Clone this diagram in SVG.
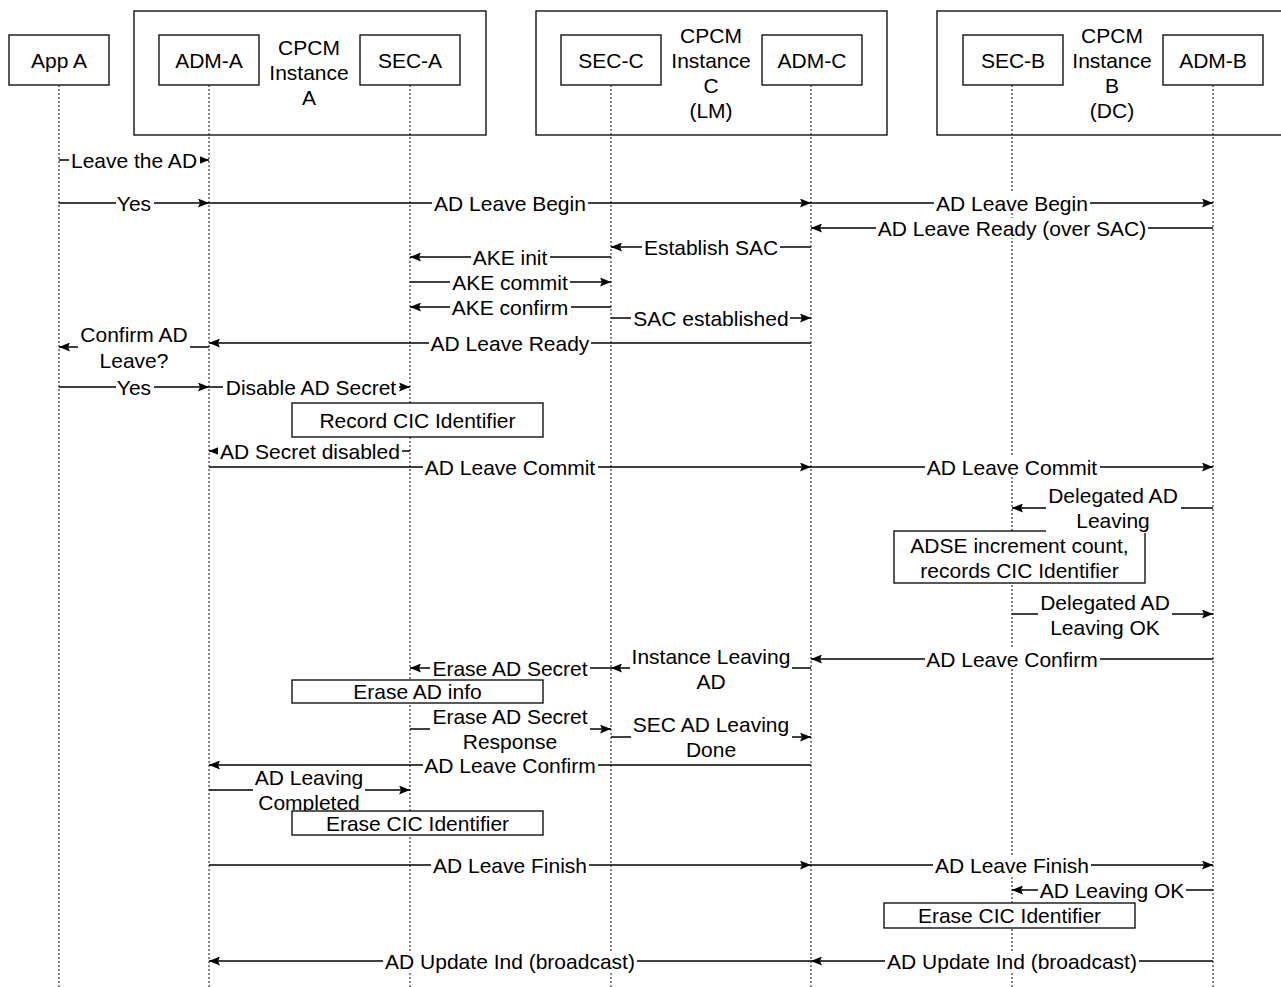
<svg xmlns="http://www.w3.org/2000/svg" width="1281" height="987" viewBox="0 0 1281 987">
<defs>
<marker id="ah" markerUnits="userSpaceOnUse" markerWidth="11" markerHeight="9" refX="11" refY="4.5" orient="auto">
<path d="M0,0 L11,4.5 L0,9 L2,4.5 z" fill="#000"/>
</marker>
<style>
text{font-family:"Liberation Sans",Arial,sans-serif;font-size:21px;fill:#000;text-anchor:middle;dominant-baseline:central}
.grp{fill:none;stroke:#000;stroke-width:1.3}
.box{fill:#fff;stroke:#000;stroke-width:1.3}
.life{stroke:#111;stroke-width:1;stroke-dasharray:2 2;fill:none}
.msg{stroke:#000;stroke-width:1.3;fill:none;marker-end:url(#ah)}
.bg{fill:#fff;stroke:none}
</style>
</defs>
<rect width="1281" height="987" fill="#fff"/>

<g id="instance-A">
<rect class="grp" x="134" y="11" width="352" height="124"/>
<text x="309" y="47">CPCM</text><text x="309" y="72">Instance</text><text x="309" y="97">A</text>
</g>
<g id="instance-C">
<rect class="grp" x="536" y="11" width="351" height="124"/>
<text x="711" y="35">CPCM</text><text x="711" y="60">Instance</text><text x="711" y="85">C</text><text x="711" y="110">(LM)</text>
</g>
<g id="instance-B">
<rect class="grp" x="937" y="11" width="360" height="124"/>
<text x="1112" y="35">CPCM</text><text x="1112" y="60">Instance</text><text x="1112" y="85">B</text><text x="1112" y="110">(DC)</text>
</g>

<g id="lifelines">
<line class="life" x1="59" y1="85" x2="59" y2="987"/>
<line class="life" x1="209" y1="85" x2="209" y2="987"/>
<line class="life" x1="410" y1="85" x2="410" y2="987"/>
<line class="life" x1="611" y1="85" x2="611" y2="987"/>
<line class="life" x1="811" y1="85" x2="811" y2="987"/>
<line class="life" x1="1012" y1="85" x2="1012" y2="987"/>
<line class="life" x1="1213" y1="85" x2="1213" y2="987"/>
</g>

<g id="app-a"><rect class="box" x="9" y="35" width="100" height="50"/><text x="59" y="60">App A</text></g>
<g id="adm-a"><rect class="box" x="159" y="35" width="100" height="50"/><text x="209" y="60">ADM-A</text></g>
<g id="sec-a"><rect class="box" x="360" y="35" width="100" height="50"/><text x="410" y="60">SEC-A</text></g>
<g id="sec-c"><rect class="box" x="561" y="35" width="100" height="50"/><text x="611" y="60">SEC-C</text></g>
<g id="adm-c"><rect class="box" x="762" y="35" width="100" height="50"/><text x="812" y="60">ADM-C</text></g>
<g id="sec-b"><rect class="box" x="963" y="35" width="100" height="50"/><text x="1013" y="60">SEC-B</text></g>
<g id="adm-b"><rect class="box" x="1163" y="35" width="100" height="50"/><text x="1213" y="60">ADM-B</text></g>

<g id="note-record-cic"><rect class="box" x="292" y="403" width="251" height="34"/><text x="417.5" y="420">Record CIC Identifier</text></g>
<g id="note-adse"><rect class="box" x="894" y="531" width="251" height="52"/><text x="1019.5" y="545">ADSE increment count,</text><text x="1019.5" y="570">records CIC Identifier</text></g>
<g id="note-erase-ad-info"><rect class="box" x="292" y="680" width="251" height="23"/><text x="417.5" y="691">Erase AD info</text></g>
<g id="note-erase-cic-b"><rect class="box" x="884" y="903" width="251" height="25"/><text x="1009.5" y="915">Erase CIC Identifier</text></g>

<g id="connectors">
<line class="msg" x1="59" y1="160" x2="209" y2="160"/>
<line class="msg" x1="59" y1="203" x2="209" y2="203"/>
<line class="msg" x1="209" y1="203" x2="811" y2="203"/>
<line class="msg" x1="811" y1="203" x2="1213" y2="203"/>
<line class="msg" x1="1213" y1="228" x2="811" y2="228"/>
<line class="msg" x1="811" y1="247" x2="611" y2="247"/>
<line class="msg" x1="611" y1="257" x2="410" y2="257"/>
<line class="msg" x1="410" y1="282" x2="611" y2="282"/>
<line class="msg" x1="611" y1="307" x2="410" y2="307"/>
<line class="msg" x1="611" y1="318" x2="811" y2="318"/>
<line class="msg" x1="811" y1="343" x2="209" y2="343"/>
<line class="msg" x1="209" y1="347" x2="59" y2="347"/>
<line class="msg" x1="59" y1="387" x2="209" y2="387"/>
<line class="msg" x1="209" y1="387" x2="410" y2="387"/>
<line class="msg" x1="410" y1="451" x2="209" y2="451"/>
<line class="msg" x1="209" y1="467" x2="811" y2="467"/>
<line class="msg" x1="811" y1="467" x2="1213" y2="467"/>
<line class="msg" x1="1213" y1="508" x2="1012" y2="508"/>
<line class="msg" x1="1012" y1="614" x2="1213" y2="614"/>
<line class="msg" x1="1213" y1="659" x2="811" y2="659"/>
<line class="msg" x1="811" y1="668" x2="611" y2="668"/>
<line class="msg" x1="611" y1="668" x2="410" y2="668"/>
<line class="msg" x1="410" y1="729" x2="611" y2="729"/>
<line class="msg" x1="611" y1="737" x2="811" y2="737"/>
<line class="msg" x1="811" y1="765" x2="209" y2="765"/>
<line class="msg" x1="209" y1="790" x2="410" y2="790"/>
<line class="msg" x1="209" y1="865" x2="811" y2="865"/>
<line class="msg" x1="811" y1="865" x2="1213" y2="865"/>
<line class="msg" x1="1213" y1="890" x2="1012" y2="890"/>
<line class="msg" x1="811" y1="961" x2="209" y2="961"/>
<line class="msg" x1="1213" y1="961" x2="811" y2="961"/>

<rect class="bg" x="69" y="150" width="131" height="20"/>
<rect class="bg" x="116" y="193" width="38" height="20"/>
<rect class="bg" x="432" y="193" width="156" height="20"/>
<rect class="bg" x="934" y="193" width="156" height="20"/>
<rect class="bg" x="876" y="218" width="272" height="20"/>
<rect class="bg" x="642" y="237" width="138" height="20"/>
<rect class="bg" x="471" y="247" width="79" height="20"/>
<rect class="bg" x="450" y="272" width="120" height="20"/>
<rect class="bg" x="450" y="297" width="121" height="20"/>
<rect class="bg" x="631" y="308" width="159" height="20"/>
<rect class="bg" x="429" y="333" width="162" height="20"/>
<rect class="bg" x="78" y="323" width="112" height="49"/>
<rect class="bg" x="116" y="377" width="38" height="20"/>
<rect class="bg" x="223" y="377" width="176" height="20"/>
<rect class="bg" x="218" y="441" width="184" height="20"/>
<rect class="bg" x="423" y="457" width="175" height="20"/>
<rect class="bg" x="925" y="457" width="175" height="20"/>
<rect class="bg" x="1046" y="484" width="135" height="49"/>
<rect class="bg" x="1038" y="591" width="134" height="47"/>
<rect class="bg" x="925" y="649" width="175" height="20"/>
<rect class="bg" x="630" y="645" width="162" height="47"/>
<rect class="bg" x="430" y="658" width="160" height="20"/>
<rect class="bg" x="430" y="705" width="160" height="47"/>
<rect class="bg" x="631" y="713" width="161" height="47"/>
<rect class="bg" x="423" y="755" width="175" height="20"/>
<rect class="bg" x="253" y="767" width="112" height="46"/>
<rect class="bg" x="431" y="855" width="158" height="20"/>
<rect class="bg" x="933" y="855" width="158" height="20"/>
<rect class="bg" x="1038" y="880" width="148" height="20"/>
<rect class="bg" x="383" y="951" width="254" height="20"/>
<rect class="bg" x="885" y="951" width="254" height="20"/>

<text x="134" y="160">Leave the AD</text>
<text x="134" y="203">Yes</text>
<text x="510" y="203">AD Leave Begin</text>
<text x="1012" y="203">AD Leave Begin</text>
<text x="1012" y="228">AD Leave Ready (over SAC)</text>
<text x="711" y="247">Establish SAC</text>
<text x="510" y="257">AKE init</text>
<text x="510" y="282">AKE commit</text>
<text x="510" y="307">AKE confirm</text>
<text x="711" y="318">SAC established</text>
<text x="510" y="343">AD Leave Ready</text>
<text x="134" y="334">Confirm AD</text><text x="134" y="360">Leave?</text>
<text x="134" y="387">Yes</text>
<text x="311" y="387">Disable AD Secret</text>
<text x="310" y="451">AD Secret disabled</text>
<text x="510" y="467">AD Leave Commit</text>
<text x="1012" y="467">AD Leave Commit</text>
<text x="1113" y="495">Delegated AD</text><text x="1113" y="520">Leaving</text>
<text x="1105" y="602">Delegated AD</text><text x="1105" y="627">Leaving OK</text>
<text x="1012" y="659">AD Leave Confirm</text>
<text x="711" y="656">Instance Leaving</text><text x="711" y="681">AD</text>
<text x="510" y="668">Erase AD Secret</text>
<text x="510" y="716">Erase AD Secret</text><text x="510" y="741">Response</text>
<text x="711" y="724">SEC AD Leaving</text><text x="711" y="749">Done</text>
<text x="510" y="765">AD Leave Confirm</text>
<text x="309" y="777">AD Leaving</text><text x="309" y="802">Completed</text>
<text x="510" y="865">AD Leave Finish</text>
<text x="1012" y="865">AD Leave Finish</text>
<text x="1112" y="890">AD Leaving OK</text>
<text x="510" y="961">AD Update Ind (broadcast)</text>
<text x="1012" y="961">AD Update Ind (broadcast)</text>
</g>

<g id="note-erase-cic-a"><rect class="box" x="292" y="811" width="251" height="24"/><text x="417.5" y="823">Erase CIC Identifier</text></g>
</svg>
